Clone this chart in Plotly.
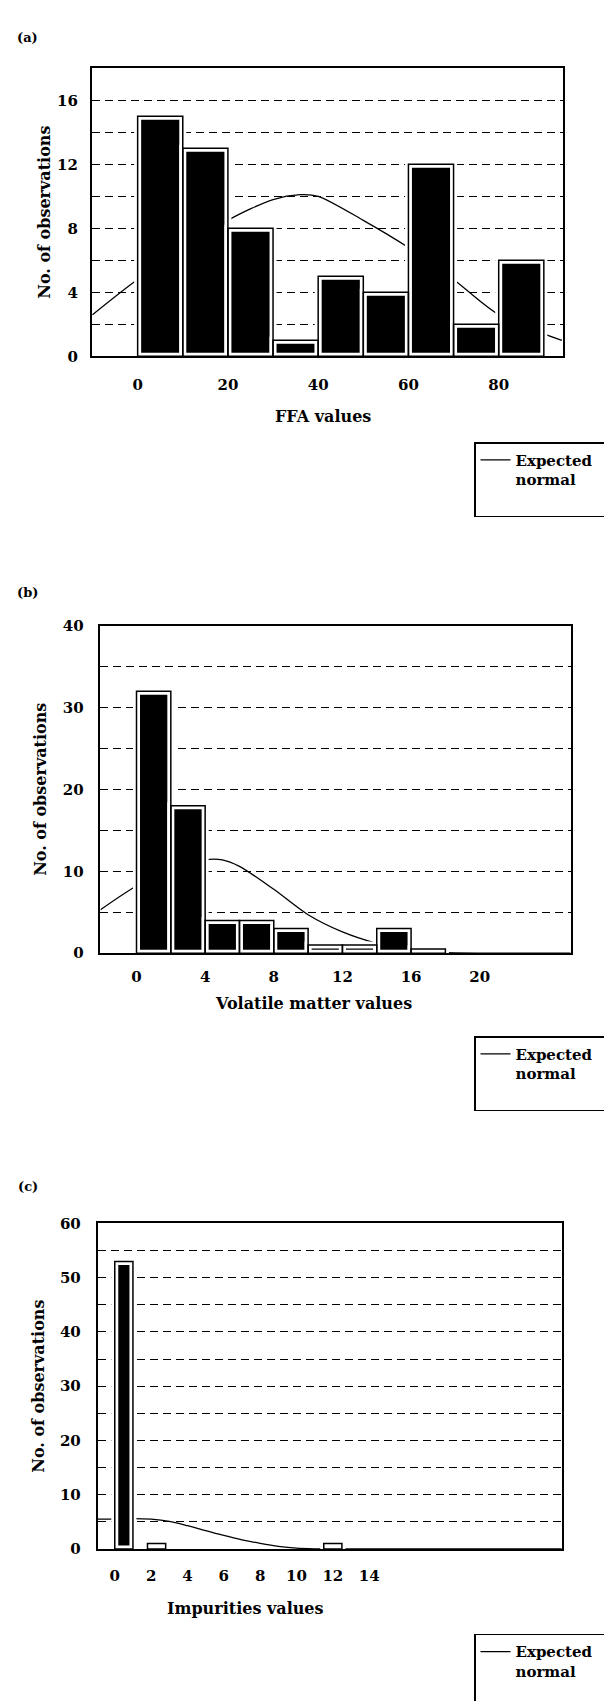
import plotly.graph_objects as go

W, H = 612, 1701

# ---------------- data ----------------
# (a) FFA
ffa_bin_mid = [5, 15, 25, 35, 45, 55, 65, 75, 85]
ffa_counts = [15, 13, 8, 1, 5, 4, 12, 2, 6]
ffa_bin_width = 10
ffa_curve_x = [-10, 0, 10, 20, 30, 36, 40, 50, 60, 70, 80, 94]
ffa_curve_y = [2.6, 4.8, 6.6, 8.5, 9.8, 10.1, 10.0, 8.5, 6.8, 4.8, 2.6, 1.0]
ffa_xticks = [0, 20, 40, 60, 80]

# (b) Volatile matter
vm_bin_mid = [1, 3, 5, 7, 9, 11, 13, 15, 17]
vm_counts = [32, 18, 4, 4, 3, 1, 1, 3, 0.5]
vm_bin_width = 2
vm_curve_x = [-2.1, 0, 2, 4, 5, 6, 8, 10, 12, 14, 16, 18, 25.3]
vm_curve_y = [5.3, 8.2, 10.1, 11.4, 11.4, 10.6, 7.8, 4.7, 2.6, 1.2, 0.3, 0.05, 0]
vm_xticks = [0, 4, 8, 12, 16, 20]

# (c) Impurities
imp_bin_mid = [0.5, 2.3, 12.0]
imp_counts = [53, 1, 1]
imp_bin_width = 1
imp_curve_x = [-0.95, 0, 1, 2, 3, 4, 5, 6, 7, 8, 9, 10, 11, 12, 24.6]
imp_curve_y = [5.5, 5.5, 5.6, 5.5, 5.1, 4.3, 3.4, 2.5, 1.7, 1.05, 0.5, 0.15, 0.03, 0, 0]
imp_xticks = [0, 2, 4, 6, 8, 10, 12, 14]

panel_labels = ["(a)", "(b)", "(c)"]
x_titles = ["FFA values", "Volatile matter values", "Impurities values"]
y_title = "No. of observations"
legend_text = "Expected&nbsp;&nbsp;&nbsp;&nbsp;<br>normal<br> "

# ---------------- layout helpers ----------------
FONT = "DejaVu Serif"

def dx(a, b):
    return [a / W, b / W]

def dy(top, bottom):
    return [1 - bottom / H, 1 - top / H]

panels = [
    dict(bx=ffa_bin_mid, by=ffa_counts, bw=ffa_bin_width, cx=ffa_curve_x, cy=ffa_curve_y,
         xticks=ffa_xticks, xr=[-10.2, 94.2], yr=[0, 18], dt=4, mdt=2,
         px=(85, 564), py=(52, 344), xstand=14, ystand=9,
         lab=(20, 21), xt=(320, 405), yt=(37, 198), leg=(474, 431)),
    dict(bx=vm_bin_mid, by=vm_counts, bw=vm_bin_width, cx=vm_curve_x, cy=vm_curve_y,
         xticks=vm_xticks, xr=[-2.1, 25.3], yr=[0, 40], dt=10, mdt=5,
         px=(94, 572), py=(617, 949), xstand=9, ystand=12,
         lab=(20, 583), xt=(311, 1000), yt=(33, 783), leg=(474, 1033)),
    dict(bx=imp_bin_mid, by=imp_counts, bw=imp_bin_width, cx=imp_curve_x, cy=imp_curve_y,
         xticks=imp_xticks, xr=[-0.95, 24.6], yr=[0, 60], dt=10, mdt=5,
         px=(91, 563), py=(1223, 1553), xstand=12, ystand=12,
         lab=(20, 1186), xt=(241, 1613), yt=(31, 1388), leg=(474, 1639)),
]

fig = go.Figure()
layout = dict(
    width=W, height=H, margin=dict(l=0, r=0, t=0, b=0),
    paper_bgcolor="white", plot_bgcolor="white",
    barmode="overlay", showlegend=True,
    font=dict(family=FONT, color="black"),
)
annotations = []
tickfont = dict(family=FONT, size=15, color="black", weight="bold")

for i, p in enumerate(panels):
    n = i + 1
    bxn, byn = ("x" if n == 1 else f"x{n}"), ("y" if n == 1 else f"y{n}")
    oxn, oyn = f"x{n + 3}", f"y{n + 3}"
    legname = "legend" if n == 1 else f"legend{n}"

    # expected normal curve (base axes, drawn beneath bars)
    fig.add_trace(go.Scatter(
        x=p["cx"], y=p["cy"], mode="lines", name=legend_text,
        line=dict(color="black", width=1.3, shape="spline", smoothing=0.8),
        xaxis=bxn, yaxis=byn, legend=legname, showlegend=True,
    ))
    # bars (overlay axes): white base, black core with white inset, black outline
    fig.add_trace(go.Bar(x=p["bx"], y=p["by"], width=p["bw"],
                         marker=dict(color="white", line=dict(width=0)),
                         xaxis=oxn, yaxis=oyn, showlegend=False))
    fig.add_trace(go.Bar(x=p["bx"], y=p["by"], width=p["bw"],
                         marker=dict(color="black", line=dict(color="white", width=7)),
                         xaxis=oxn, yaxis=oyn, showlegend=False))
    fig.add_trace(go.Bar(x=p["bx"], y=p["by"], width=p["bw"],
                         marker=dict(color="rgba(0,0,0,0)", line=dict(color="black", width=1.5)),
                         xaxis=oxn, yaxis=oyn, showlegend=False))

    xkey = "xaxis" if n == 1 else f"xaxis{n}"
    ykey = "yaxis" if n == 1 else f"yaxis{n}"
    layout[xkey] = dict(
        domain=dx(*p["px"]), range=p["xr"], anchor=byn,
        tickmode="array", tickvals=p["xticks"], ticks="",
        showline=True, mirror=True, linecolor="black", linewidth=1.5,
        showgrid=False, zeroline=False, tickfont=tickfont,
        ticklabelstandoff=p["xstand"],
    )
    layout[ykey] = dict(
        domain=dy(*p["py"]), range=p["yr"], anchor=bxn,
        tickmode="linear", tick0=0, dtick=p["dt"], ticks="",
        showline=True, mirror=True, linecolor="black", linewidth=1.5,
        showgrid=True, gridcolor="black", gridwidth=1.3, griddash="8px,5px",
        minor=dict(dtick=p["mdt"], tick0=0, showgrid=True, gridcolor="black",
                   gridwidth=1.3, griddash="8px,5px"),
        zeroline=False, tickfont=tickfont, ticklabelstandoff=p["ystand"],
    )
    layout[f"xaxis{n + 3}"] = dict(overlaying=bxn, range=p["xr"], visible=False, anchor=oyn)
    layout[f"yaxis{n + 3}"] = dict(overlaying=byn, range=p["yr"], visible=False, anchor=oxn)

    layout[legname] = dict(
        x=p["leg"][0] / W, y=1 - p["leg"][1] / H, xanchor="left", yanchor="top",
        bordercolor="black", borderwidth=1.5, bgcolor="white", valign="top",
        font=dict(family=FONT, size=15, color="black", weight="bold"),
        itemwidth=30,
    )

    annotations.append(dict(text=f"<b>{panel_labels[i]}</b>", x=p["lab"][0] / W, y=1 - p["lab"][1] / H,
                            xref="paper", yref="paper", showarrow=False,
                            xanchor="center", yanchor="middle",
                            font=dict(family=FONT, size=13, color="black")))
    annotations.append(dict(text=f"<b>{x_titles[i]}</b>", x=p["xt"][0] / W, y=1 - p["xt"][1] / H,
                            xref="paper", yref="paper", showarrow=False,
                            xanchor="center", yanchor="middle",
                            font=dict(family=FONT, size=16, color="black")))
    annotations.append(dict(text=f"<b>{y_title}</b>", x=p["yt"][0] / W, y=1 - p["yt"][1] / H,
                            xref="paper", yref="paper", showarrow=False, textangle=-90,
                            xanchor="center", yanchor="middle",
                            font=dict(family=FONT, size=16, color="black")))

layout["annotations"] = annotations
fig.update_layout(**layout)
fig.write_html("out.html")
